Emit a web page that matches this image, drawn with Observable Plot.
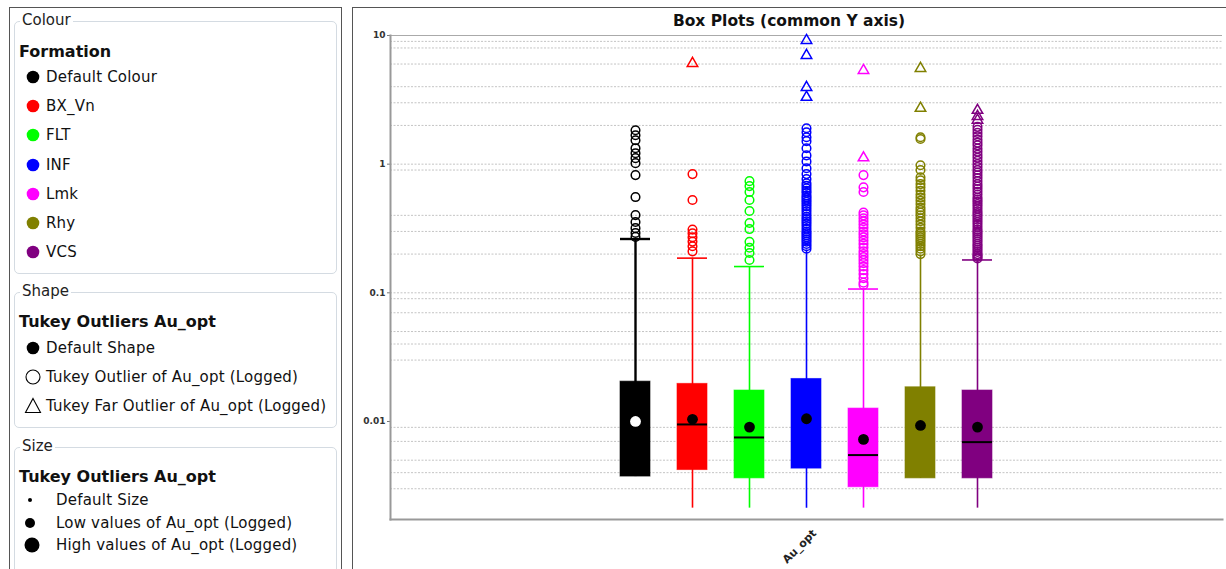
<!DOCTYPE html>
<html>
<head>
<meta charset="utf-8">
<script src="https://cdn.jsdelivr.net/npm/d3@7"></script>
<script src="https://cdn.jsdelivr.net/npm/@observablehq/plot@0.6"></script>
<style>
  html, body { margin: 0; padding: 0; background: #fff; }
  body { width: 1226px; height: 569px; position: relative; overflow: hidden; font-family: "DejaVu Sans", sans-serif; color: #111; }
  .panel { position: absolute; border: 1px solid #555; box-sizing: border-box; }
  .group { position: absolute; border: 1px solid #d4dbe2; border-radius: 5px; box-sizing: border-box; }
  .glabel { position: absolute; background: #fff; font-size: 15px; padding: 0 2px; line-height: 17px; color: #222; }
  .ltitle { position: absolute; font-weight: bold; font-size: 16px; line-height: 18px; }
  .item { position: absolute; font-size: 15px; line-height: 17px; white-space: nowrap; letter-spacing: 0.2px; }
  .sym { position: absolute; }
  #title { position: absolute; left: 352px; width: 874px; top: 12px; text-align: center; font-weight: bold; font-size: 15.5px; line-height: 18px; }
  #chart { position: absolute; left: 352px; top: 0; }
</style>
</head>
<body>
<div class="panel" style="left:9px; top:7px; width:333px; height:575px;"></div>
<div class="panel" style="left:352px; top:7px; width:880px; height:575px;"></div>
<div id="legend"></div>
<div id="title">Box Plots (common Y axis)</div>
<div id="chart"></div>
<script>
// ---------------- data ----------------
const formations = ["Default Colour", "BX_Vn", "FLT", "INF", "Lmk", "Rhy", "VCS"];
const colors = ["#000000", "#ff0000", "#00ff00", "#0000ff", "#ff00ff", "#808000", "#800080"];
const q1 = [0.00373, 0.00419, 0.00361, 0.0043, 0.00308, 0.00361, 0.00361];
const q3 = [0.0204, 0.0196, 0.0174, 0.0214, 0.0126, 0.01845, 0.0174];
const medians = [null, 0.00948, 0.00751, null, 0.00548, null, 0.00691];
const means = [0.0100, 0.0104, 0.00904, 0.0105, 0.00725, 0.00931, 0.00904];
const whiskerLow = [0.00373, 0.00212, 0.00212, 0.00212, 0.00212, 0.00361, 0.00212];
const whiskerHigh = [0.262, 0.186, 0.160, 0.215, 0.107, 0.197, 0.180];
const whiskerCap = [true, true, true, false, true, false, true];

const outliers = [
  [1.835, 1.678, 1.535, 1.331, 1.217, 1.113, 1.018, 0.822, 0.555, 0.402, 0.355, 0.318, 0.292, 0.272],
  [0.837, 0.526, 0.31, 0.29, 0.27, 0.25, 0.23, 0.21],
  [0.738, 0.675, 0.607, 0.526, 0.432, 0.349, 0.313, 0.249, 0.224, 0.204, 0.18],
  [1.90, 1.77, 1.62, 1.51, 1.33, 1.17, 1.05, 0.93, 0.837, 0.765, 0.71, 0.68, 0.65, 0.62, 0.60, 0.57, 0.55,
   0.53, 0.51, 0.49, 0.47, 0.45, 0.43, 0.41, 0.39, 0.375, 0.36, 0.345, 0.33, 0.315, 0.30, 0.29, 0.28,
   0.27, 0.26, 0.25, 0.24, 0.23, 0.22],
  [0.822, 0.66, 0.607, 0.42, 0.40, 0.38, 0.36, 0.34, 0.32, 0.30, 0.285, 0.27, 0.255, 0.24, 0.225, 0.21,
   0.20, 0.19, 0.18, 0.17, 0.16, 0.15, 0.14, 0.13, 0.12, 0.115],
  [1.62, 1.57, 0.98, 0.90, 0.79, 0.75, 0.70, 0.66, 0.62, 0.58, 0.55, 0.52, 0.49, 0.46, 0.44, 0.42, 0.40,
   0.38, 0.36, 0.34, 0.32, 0.30, 0.29, 0.28, 0.27, 0.26, 0.25, 0.24, 0.23, 0.22, 0.21, 0.20],
  [1.95, 1.85, 1.75, 1.65, 1.55, 1.47, 1.40, 1.32, 1.25, 1.18, 1.12, 1.06, 1.00, 0.95, 0.90, 0.86, 0.82,
   0.78, 0.74, 0.70, 0.67, 0.64, 0.61, 0.58, 0.55, 0.53, 0.51, 0.49, 0.47, 0.45, 0.43, 0.415, 0.40,
   0.385, 0.37, 0.355, 0.34, 0.325, 0.31, 0.30, 0.29, 0.28, 0.27, 0.26, 0.25, 0.24, 0.232, 0.224, 0.216,
   0.208, 0.20, 0.195, 0.19, 0.185]
];
const farOutliers = [
  [],
  [6.07],
  [],
  [9.15, 7.0, 3.95, 3.31],
  [5.35, 1.12],
  [5.55, 2.72],
  [2.62, 2.35, 2.2]
];

const yTicks = [0.01, 0.1, 1, 10];
const gridValues = [0.003, 0.004, 0.005, 0.007, 0.009, 0.03, 0.04, 0.05, 0.07, 0.09, 0.1,
  0.2, 0.3, 0.4, 0.9, 1, 2, 3, 4, 6, 8, 9];
const xLabel = "Au_opt";
const yDomain = [0.00173, 10];

// ---------------- legend ----------------
const legendColour = { group: "Colour", title: "Formation", labels: formations, colors: colors };
const legendShape = { group: "Shape", title: "Tukey Outliers Au_opt",
  labels: ["Default Shape", "Tukey Outlier of Au_opt (Logged)", "Tukey Far Outlier of Au_opt (Logged)"],
  symbols: ["dot", "circle", "triangle"] };
const legendSize = { group: "Size", title: "Tukey Outliers Au_opt",
  labels: ["Default Size", "Low values of Au_opt (Logged)", "High values of Au_opt (Logged)"],
  radii: [2, 5, 7.5] };

function add(html) { document.getElementById("legend").insertAdjacentHTML("beforeend", html); }
function group(left, top, width, height, label) {
  add(`<div class="group" style="left:${left}px;top:${top}px;width:${width}px;height:${height}px"></div>`);
  add(`<div class="glabel" style="left:${left + 6}px;top:${top - 9}px">${label}</div>`);
}
function svgSym(cx, cy, inner) {
  add(`<svg class="sym" style="left:${cx - 10}px;top:${cy - 10}px" width="20" height="20" viewBox="-10 -10 20 20">${inner}</svg>`);
}
// Colour group
group(14, 21, 323, 253, legendColour.group);
add(`<div class="ltitle" style="left:19px;top:43px">${legendColour.title}</div>`);
const colourRows = [77, 106, 135, 165, 194, 223, 252];
legendColour.labels.forEach((l, i) => {
  svgSym(33, colourRows[i], `<circle r="6.3" fill="${legendColour.colors[i]}"/>`);
  add(`<div class="item" style="left:46px;top:${colourRows[i] - 8}px">${l}</div>`);
});
// Shape group
group(14, 292, 323, 136, legendShape.group);
add(`<div class="ltitle" style="left:19px;top:313px">${legendShape.title}</div>`);
const shapeRows = [348, 377, 406];
legendShape.labels.forEach((l, i) => {
  const s = legendShape.symbols[i];
  const inner = s === "dot" ? `<circle r="6.3" fill="#000"/>`
    : s === "circle" ? `<circle r="7" fill="none" stroke="#000" stroke-width="1.1"/>`
    : `<path d="M0,-7.5L7.5,6.5L-7.5,6.5Z" fill="none" stroke="#000" stroke-width="1.1"/>`;
  svgSym(33, shapeRows[i], inner);
  add(`<div class="item" style="left:46px;top:${shapeRows[i] - 8}px">${l}</div>`);
});
// Size group
group(14, 447, 323, 130, legendSize.group);
add(`<div class="ltitle" style="left:19px;top:468px">${legendSize.title}</div>`);
const sizeRows = [500, 523, 545];
legendSize.labels.forEach((l, i) => {
  svgSym(i === 2 ? 32 : 30, sizeRows[i], `<circle r="${legendSize.radii[i]}" fill="#000"/>`);
  add(`<div class="item" style="left:56px;top:${sizeRows[i] - 8}px">${l}</div>`);
});

// ---------------- chart ----------------
const boxes = formations.map((f, i) => ({
  formation: f, color: colors[i], q1: q1[i], q3: q3[i], median: medians[i], mean: means[i],
  lo: whiskerLow[i], hi: whiskerHigh[i], cap: whiskerCap[i],
  meanFill: i === 0 ? "#ffffff" : "#000000", whiskerWidth: i === 0 ? 2.4 : 1.6
}));
const outRows = formations.flatMap((f, i) => outliers[i].map(v => ({ formation: f, color: colors[i], value: v })));
const farRows = formations.flatMap((f, i) => farOutliers[i].map(v => ({ formation: f, color: colors[i], value: v })));

const chart = Plot.plot({
  width: 874,
  height: 569,
  marginLeft: 38,
  marginRight: 4,
  marginTop: 35,
  marginBottom: 50,
  style: { fontFamily: "DejaVu Sans, sans-serif", background: "transparent" },
  x: { type: "band", domain: formations, range: [266, 642], paddingInner: 0.48, paddingOuter: 0, axis: null },
  y: { type: "log", domain: yDomain },
  marks: [
    Plot.ruleY(gridValues, { stroke: "#c4c4c4", strokeWidth: 1, strokeDasharray: "2,1.5" }),
    Plot.ruleY([yDomain[1]], { stroke: "#aaaaaa", strokeWidth: 1.2 }),
    Plot.ruleX({ length: 1 }, { stroke: "#d8d8d8", strokeDasharray: "2,2" }),
    Plot.axisY(yTicks, {
      tickSize: 3, stroke: "#777", tickPadding: 2,
      tickFormat: d => String(d), fontSize: 9, fontWeight: "bold", fill: "#333"
    }),
    Plot.frame({ anchor: "left", stroke: "#999", strokeWidth: 2 }),
    Plot.frame({ anchor: "bottom", stroke: "#999", strokeWidth: 2 }),
    Plot.ruleX(boxes, { x: "formation", y1: "lo", y2: "hi", stroke: "color", strokeWidth: "whiskerWidth" }),
    Plot.tickY(boxes.filter(b => b.cap), { x: "formation", y: "hi", stroke: "color", strokeWidth: "whiskerWidth" }),
    Plot.barY(boxes, { x: "formation", y1: "q1", y2: "q3", fill: "color", stroke: "color", strokeOpacity: 0.6, strokeWidth: 1 }),
    Plot.tickY(boxes.filter(b => b.median != null), { x: "formation", y: "median", stroke: "#000", strokeWidth: 2 }),
    Plot.dot(outRows, { x: "formation", y: "value", stroke: "color", r: 4.3, strokeWidth: 1.5, fill: "none" }),
    Plot.dot(farRows, { x: "formation", y: "value", stroke: "color", symbol: "triangle", r: 3.9, strokeWidth: 1.5, fill: "none" }),
    Plot.dot(boxes, { x: "formation", y: "mean", fill: "meanFill", r: 5.4 }),
    Plot.text([xLabel], {
      frameAnchor: "bottom", dx: 5, dy: 9, rotate: -45, textAnchor: "end", lineAnchor: "top",
      fontSize: 11, fontWeight: "bold", fill: "#222"
    })
  ]
});
document.getElementById("chart").appendChild(chart);
</script>
</body>
</html>
